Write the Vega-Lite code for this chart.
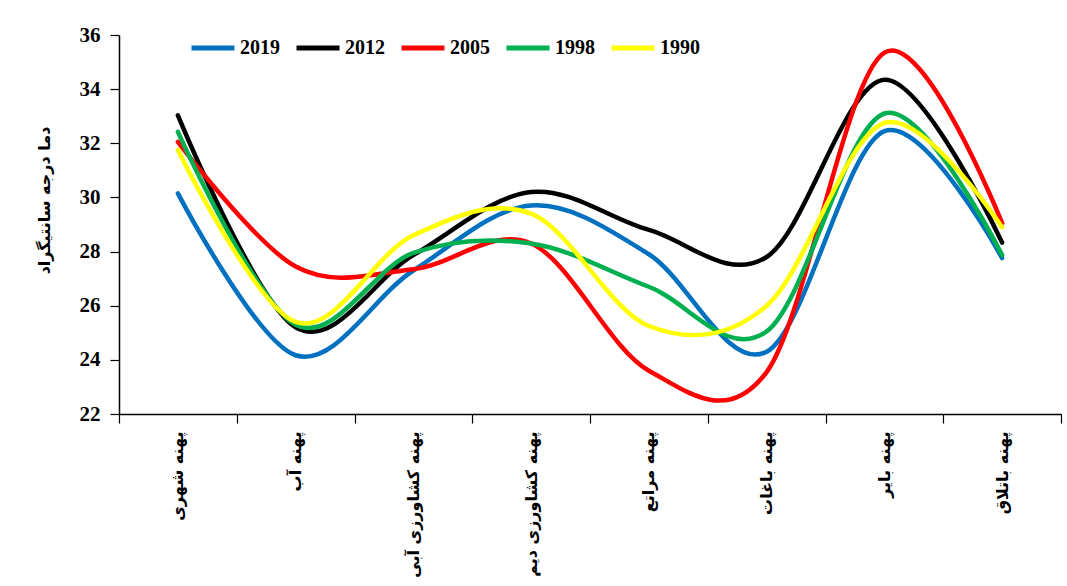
{
  "$schema": "https://vega.github.io/schema/vega-lite/v6.json",
  "width": 942,
  "height": 379,
  "autosize": "none",
  "padding": {"left": 119, "top": 35, "right": 6, "bottom": 172},
  "background": "white",
  "config": {"view": {"stroke": null}},
  "data": {
    "values": [
      {"zone": "پهنه شهری", "year": "2019", "temp": 30.15},
      {"zone": "پهنه آب", "year": "2019", "temp": 24.17},
      {"zone": "پهنه کشاورزی آبی", "year": "2019", "temp": 27.3},
      {"zone": "پهنه کشاورزی دیم", "year": "2019", "temp": 29.7},
      {"zone": "پهنه مراتع", "year": "2019", "temp": 27.9},
      {"zone": "پهنه باغات", "year": "2019", "temp": 24.3},
      {"zone": "پهنه بایر", "year": "2019", "temp": 32.45},
      {"zone": "پهنه باتلاق", "year": "2019", "temp": 27.76},
      {"zone": "پهنه شهری", "year": "2012", "temp": 33.03},
      {"zone": "پهنه آب", "year": "2012", "temp": 25.2},
      {"zone": "پهنه کشاورزی آبی", "year": "2012", "temp": 27.87},
      {"zone": "پهنه کشاورزی دیم", "year": "2012", "temp": 30.2},
      {"zone": "پهنه مراتع", "year": "2012", "temp": 28.8},
      {"zone": "پهنه باغات", "year": "2012", "temp": 27.8},
      {"zone": "پهنه بایر", "year": "2012", "temp": 34.35},
      {"zone": "پهنه باتلاق", "year": "2012", "temp": 28.33},
      {"zone": "پهنه شهری", "year": "2005", "temp": 32.05},
      {"zone": "پهنه آب", "year": "2005", "temp": 27.45},
      {"zone": "پهنه کشاورزی آبی", "year": "2005", "temp": 27.35},
      {"zone": "پهنه کشاورزی دیم", "year": "2005", "temp": 28.3},
      {"zone": "پهنه مراتع", "year": "2005", "temp": 23.6},
      {"zone": "پهنه باغات", "year": "2005", "temp": 23.55},
      {"zone": "پهنه بایر", "year": "2005", "temp": 35.35},
      {"zone": "پهنه باتلاق", "year": "2005", "temp": 29.05},
      {"zone": "پهنه شهری", "year": "1998", "temp": 32.42},
      {"zone": "پهنه آب", "year": "1998", "temp": 25.3},
      {"zone": "پهنه کشاورزی آبی", "year": "1998", "temp": 27.95},
      {"zone": "پهنه کشاورزی دیم", "year": "1998", "temp": 28.3},
      {"zone": "پهنه مراتع", "year": "1998", "temp": 26.7},
      {"zone": "پهنه باغات", "year": "1998", "temp": 25.05},
      {"zone": "پهنه بایر", "year": "1998", "temp": 33.1},
      {"zone": "پهنه باتلاق", "year": "1998", "temp": 27.87},
      {"zone": "پهنه شهری", "year": "1990", "temp": 31.75},
      {"zone": "پهنه آب", "year": "1990", "temp": 25.4},
      {"zone": "پهنه کشاورزی آبی", "year": "1990", "temp": 28.6},
      {"zone": "پهنه کشاورزی دیم", "year": "1990", "temp": 29.4},
      {"zone": "پهنه مراتع", "year": "1990", "temp": 25.25},
      {"zone": "پهنه باغات", "year": "1990", "temp": 26.0},
      {"zone": "پهنه بایر", "year": "1990", "temp": 32.75},
      {"zone": "پهنه باتلاق", "year": "1990", "temp": 28.9}
    ]
  },
  "mark": {"type": "line", "interpolate": "cardinal", "tension": 0, "strokeWidth": 4.5, "strokeCap": "round"},
  "encoding": {
    "x": {
      "field": "zone",
      "type": "nominal",
      "sort": null,
      "scale": {"paddingInner": 0, "paddingOuter": 0},
      "axis": {
        "title": null,
        "labelAngle": -90,
        "labelFont": "DejaVu Sans",
        "labelFontWeight": "bold",
        "labelFontSize": 16,
        "labelColor": "black",
        "labelPadding": 8,
        "labelLimit": 300,
        "tickBand": "extent",
        "tickSize": 9,
        "tickColor": "black",
        "domainColor": "black",
        "domainWidth": 1.5,
        "tickWidth": 1.2
      }
    },
    "y": {
      "field": "temp",
      "type": "quantitative",
      "scale": {"domain": [22, 36], "nice": false, "zero": false},
      "axis": {
        "title": "دما درجه سانتیگراد",
        "titleFont": "DejaVu Sans",
        "titleFontSize": 16,
        "titleFontWeight": "bold",
        "titleColor": "black",
        "titlePadding": 27,
        "titleY": 165,
        "values": [22, 24, 26, 28, 30, 32, 34, 36],
        "grid": false,
        "labelFont": "Liberation Serif",
        "labelFontWeight": "bold",
        "labelFontSize": 21,
        "labelColor": "black",
        "labelPadding": 10,
        "tickSize": 9,
        "tickColor": "black",
        "domainColor": "black",
        "domainWidth": 1.5,
        "tickWidth": 1.2
      }
    },
    "color": {
      "field": "year",
      "type": "nominal",
      "scale": {
        "domain": ["2019", "2012", "2005", "1998", "1990"],
        "range": ["#0070C0", "#000000", "#FF0000", "#00B050", "#FFFF00"]
      },
      "legend": {
        "title": null,
        "orient": "none",
        "direction": "horizontal",
        "legendX": 70,
        "legendY": -11,
        "symbolType": "stroke",
        "symbolSize": 1849,
        "symbolStrokeWidth": 5,
        "labelFont": "Liberation Serif",
        "labelFontWeight": "bold",
        "labelFontSize": 20,
        "labelColor": "black",
        "labelOffset": 3,
        "columnPadding": 6
      }
    }
  }
}
